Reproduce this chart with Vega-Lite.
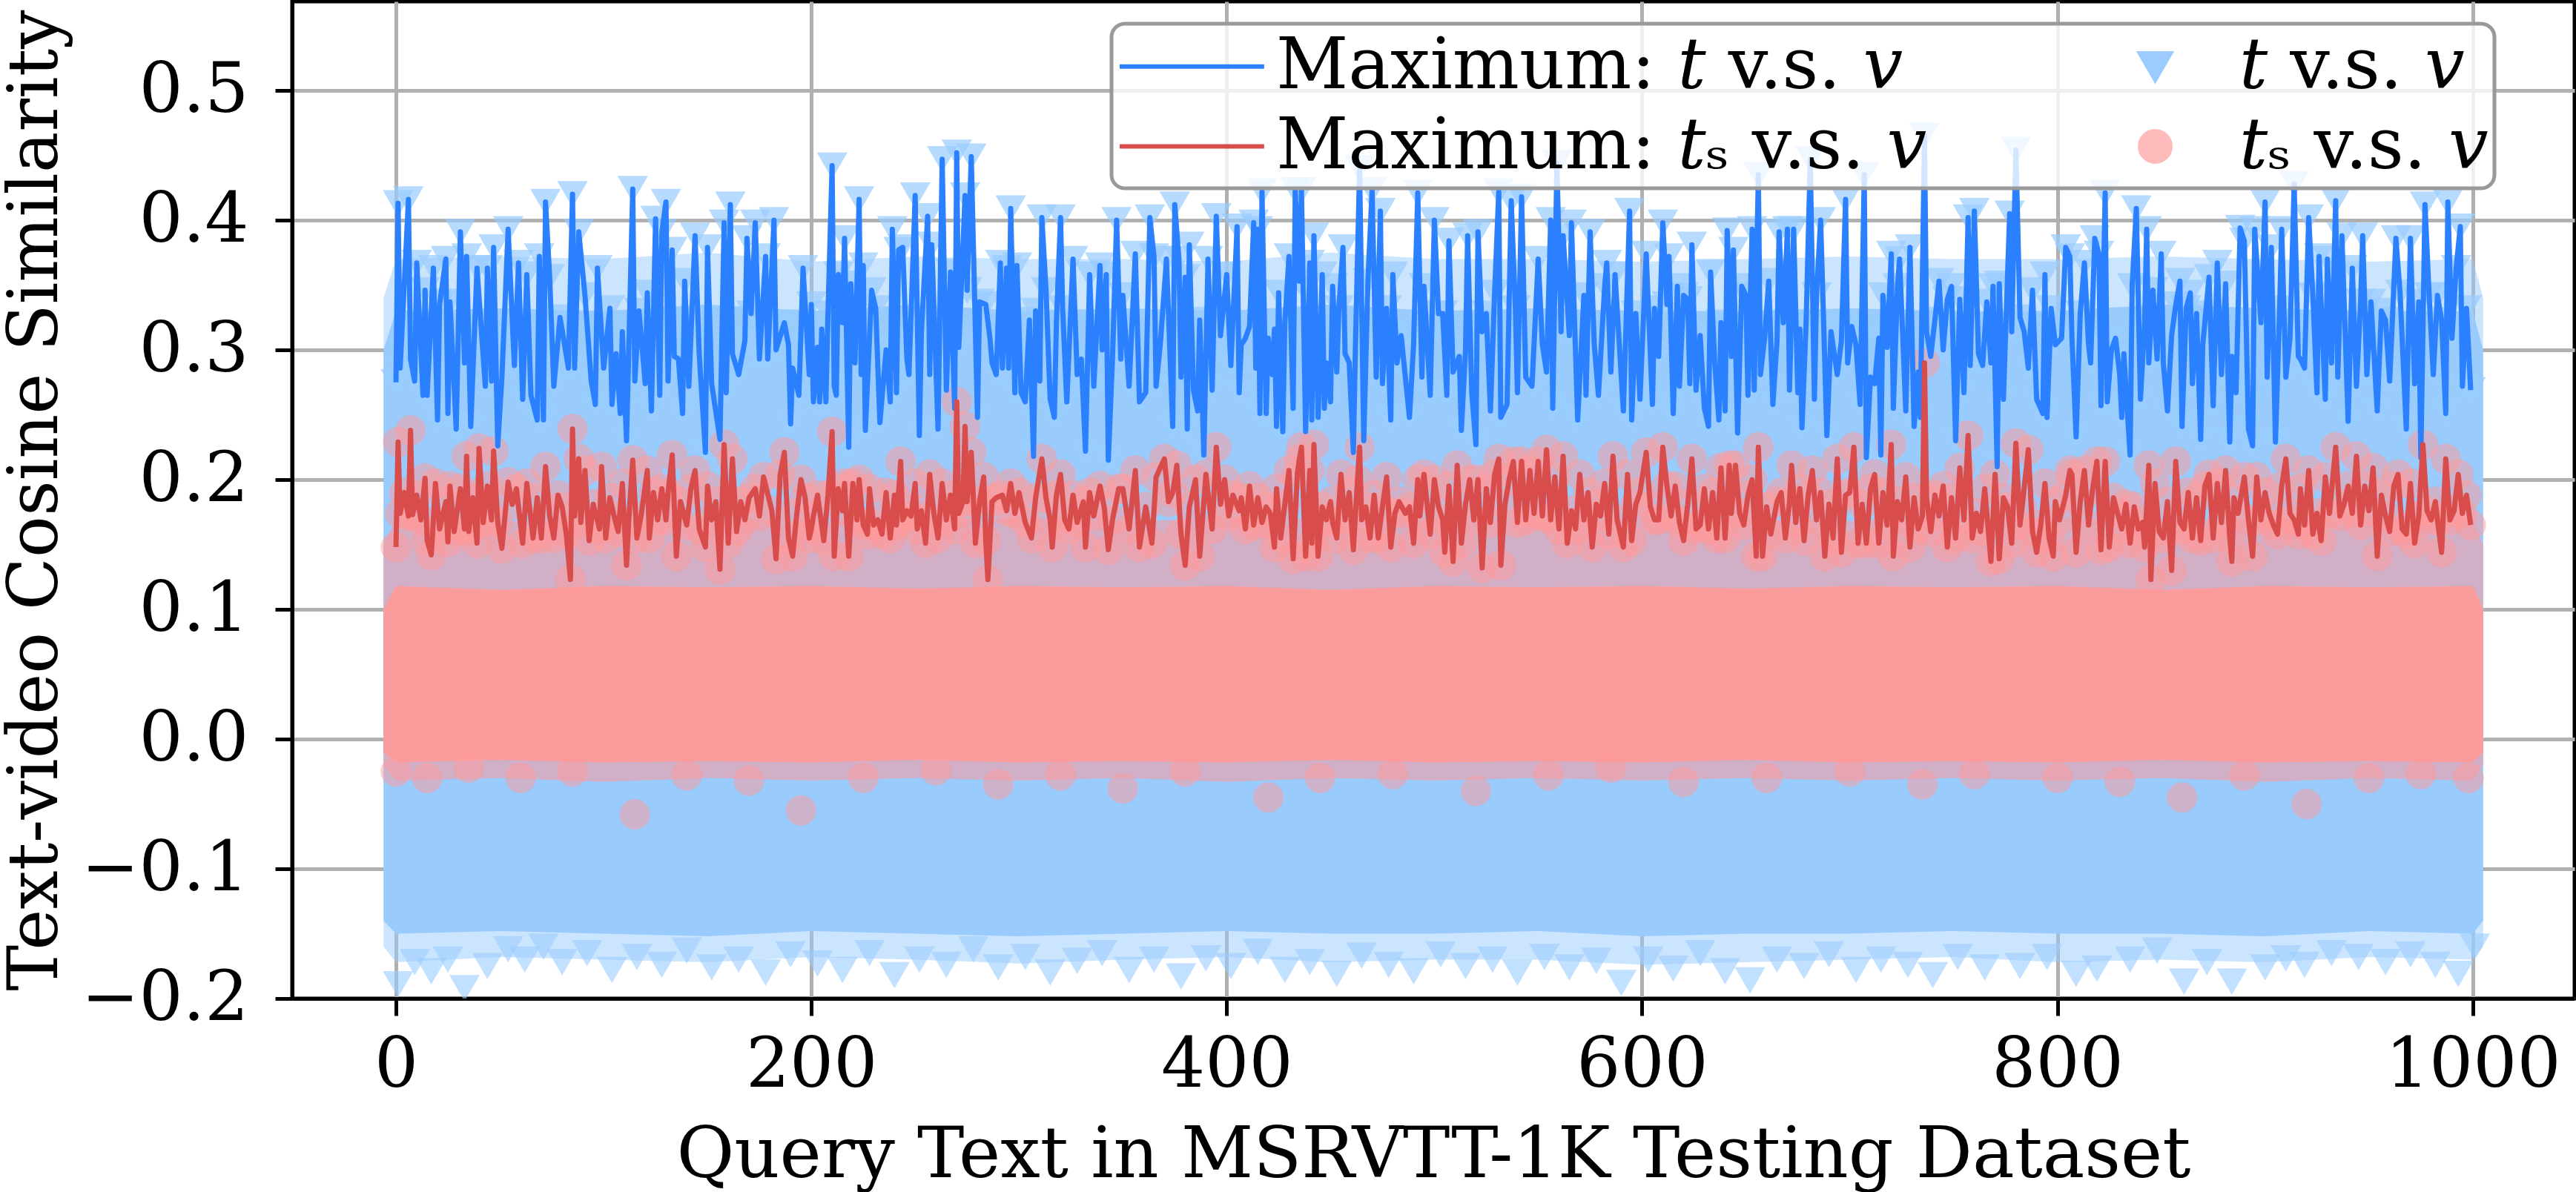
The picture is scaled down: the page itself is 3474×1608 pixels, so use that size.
{
  "$schema": "https://vega.github.io/schema/vega-lite/v6.json",
  "width": 3078,
  "height": 1345,
  "autosize": {"type": "none"},
  "padding": {"left": 394, "top": 2, "right": 2, "bottom": 261},
  "background": "white",
  "datasets": {
    "cloud": [
      {"q":-6,"bLo2":-0.16,"bLo":-0.14,"bHi":0.3,"bHi2":0.34,"pLo2":-0.02,"pLo":-0.01,"pHi":0.1,"pHi2":0.15},
      {"q":0,"bLo2":-0.172,"bLo":-0.15,"bHi":0.33,"bHi2":0.37,"pLo2":-0.032,"pLo":-0.018,"pHi":0.118,"pHi2":0.17},
      {"q":50,"bLo2":-0.168,"bLo":-0.148,"bHi":0.332,"bHi2":0.372,"pLo2":-0.03,"pLo":-0.016,"pHi":0.115,"pHi2":0.168},
      {"q":100,"bLo2":-0.17,"bLo":-0.15,"bHi":0.33,"bHi2":0.37,"pLo2":-0.033,"pLo":-0.018,"pHi":0.118,"pHi2":0.17},
      {"q":150,"bLo2":-0.172,"bLo":-0.152,"bHi":0.335,"bHi2":0.375,"pLo2":-0.03,"pLo":-0.017,"pHi":0.117,"pHi2":0.17},
      {"q":200,"bLo2":-0.168,"bLo":-0.148,"bHi":0.33,"bHi2":0.368,"pLo2":-0.032,"pLo":-0.018,"pHi":0.118,"pHi2":0.168},
      {"q":250,"bLo2":-0.17,"bLo":-0.15,"bHi":0.335,"bHi2":0.372,"pLo2":-0.03,"pLo":-0.016,"pHi":0.116,"pHi2":0.17},
      {"q":300,"bLo2":-0.173,"bLo":-0.152,"bHi":0.33,"bHi2":0.37,"pLo2":-0.032,"pLo":-0.018,"pHi":0.118,"pHi2":0.17},
      {"q":350,"bLo2":-0.17,"bLo":-0.15,"bHi":0.332,"bHi2":0.37,"pLo2":-0.03,"pLo":-0.017,"pHi":0.117,"pHi2":0.168},
      {"q":400,"bLo2":-0.168,"bLo":-0.148,"bHi":0.33,"bHi2":0.368,"pLo2":-0.033,"pLo":-0.018,"pHi":0.118,"pHi2":0.17},
      {"q":450,"bLo2":-0.172,"bLo":-0.15,"bHi":0.335,"bHi2":0.375,"pLo2":-0.03,"pLo":-0.016,"pHi":0.115,"pHi2":0.17},
      {"q":500,"bLo2":-0.17,"bLo":-0.15,"bHi":0.33,"bHi2":0.37,"pLo2":-0.032,"pLo":-0.018,"pHi":0.118,"pHi2":0.17},
      {"q":550,"bLo2":-0.17,"bLo":-0.148,"bHi":0.332,"bHi2":0.37,"pLo2":-0.03,"pLo":-0.017,"pHi":0.117,"pHi2":0.168},
      {"q":600,"bLo2":-0.174,"bLo":-0.152,"bHi":0.33,"bHi2":0.368,"pLo2":-0.032,"pLo":-0.018,"pHi":0.118,"pHi2":0.17},
      {"q":650,"bLo2":-0.172,"bLo":-0.15,"bHi":0.33,"bHi2":0.37,"pLo2":-0.03,"pLo":-0.016,"pHi":0.116,"pHi2":0.17},
      {"q":700,"bLo2":-0.17,"bLo":-0.15,"bHi":0.332,"bHi2":0.372,"pLo2":-0.032,"pLo":-0.018,"pHi":0.118,"pHi2":0.168},
      {"q":750,"bLo2":-0.168,"bLo":-0.148,"bHi":0.33,"bHi2":0.37,"pLo2":-0.03,"pLo":-0.017,"pHi":0.117,"pHi2":0.17},
      {"q":800,"bLo2":-0.172,"bLo":-0.15,"bHi":0.33,"bHi2":0.37,"pLo2":-0.032,"pLo":-0.018,"pHi":0.118,"pHi2":0.17},
      {"q":850,"bLo2":-0.17,"bLo":-0.15,"bHi":0.335,"bHi2":0.372,"pLo2":-0.03,"pLo":-0.016,"pHi":0.115,"pHi2":0.168},
      {"q":900,"bLo2":-0.172,"bLo":-0.152,"bHi":0.332,"bHi2":0.37,"pLo2":-0.033,"pLo":-0.018,"pHi":0.118,"pHi2":0.17},
      {"q":950,"bLo2":-0.168,"bLo":-0.148,"bHi":0.33,"bHi2":0.368,"pLo2":-0.03,"pLo":-0.017,"pHi":0.117,"pHi2":0.17},
      {"q":1000,"bLo2":-0.17,"bLo":-0.15,"bHi":0.33,"bHi2":0.37,"pLo2":-0.032,"pLo":-0.018,"pHi":0.118,"pHi2":0.17},
      {"q":1005,"bLo2":-0.16,"bLo":-0.14,"bHi":0.3,"bHi2":0.34,"pLo2":-0.02,"pLo":-0.01,"pHi":0.1,"pHi2":0.15}
    ],
    "minT": [
      {"q":1,"s":-0.189},{"q":9,"s":-0.172},{"q":17,"s":-0.179},{"q":25,"s":-0.17},{"q":33,"s":-0.192},{"q":44,"s":-0.175},{"q":54,"s":-0.162},{"q":62,"s":-0.17},{"q":71,"s":-0.16},{"q":80,"s":-0.172},{"q":92,"s":-0.165},{"q":104,"s":-0.178},{"q":116,"s":-0.168},{"q":128,"s":-0.174},{"q":140,"s":-0.163},{"q":152,"s":-0.176},{"q":165,"s":-0.17},{"q":178,"s":-0.18},{"q":190,"s":-0.166},{"q":203,"s":-0.173},{"q":215,"s":-0.178},{"q":228,"s":-0.165},{"q":240,"s":-0.182},{"q":252,"s":-0.17},{"q":265,"s":-0.174},{"q":278,"s":-0.162},{"q":290,"s":-0.176},{"q":303,"s":-0.168},{"q":315,"s":-0.18},{"q":328,"s":-0.171},{"q":340,"s":-0.165},{"q":353,"s":-0.178},{"q":365,"s":-0.17},{"q":378,"s":-0.183},{"q":390,"s":-0.169},{"q":402,"s":-0.175},{"q":415,"s":-0.164},{"q":428,"s":-0.178},{"q":440,"s":-0.172},{"q":453,"s":-0.181},{"q":465,"s":-0.167},{"q":478,"s":-0.174},{"q":490,"s":-0.179},{"q":503,"s":-0.166},{"q":515,"s":-0.175},{"q":528,"s":-0.17},{"q":540,"s":-0.18},{"q":553,"s":-0.168},{"q":565,"s":-0.176},{"q":578,"s":-0.171},{"q":590,"s":-0.188},{"q":603,"s":-0.17},{"q":615,"s":-0.177},{"q":628,"s":-0.165},{"q":640,"s":-0.179},{"q":652,"s":-0.186},{"q":665,"s":-0.17},{"q":678,"s":-0.175},{"q":690,"s":-0.166},{"q":703,"s":-0.178},{"q":715,"s":-0.17},{"q":728,"s":-0.174},{"q":740,"s":-0.182},{"q":752,"s":-0.168},{"q":765,"s":-0.176},{"q":782,"s":-0.175},{"q":795,"s":-0.168},{"q":809,"s":-0.181},{"q":819,"s":-0.177},{"q":835,"s":-0.17},{"q":848,"s":-0.163},{"q":861,"s":-0.187},{"q":872,"s":-0.172},{"q":884,"s":-0.187},{"q":900,"s":-0.176},{"q":910,"s":-0.169},{"q":919,"s":-0.174},{"q":932,"s":-0.165},{"q":945,"s":-0.168},{"q":958,"s":-0.172},{"q":970,"s":-0.166},{"q":982,"s":-0.174},{"q":993,"s":-0.181},{"q":1001,"s":-0.16}
    ],
    "minTs": [
      {"q":0,"s":-0.025},{"q":15,"s":-0.03},{"q":35,"s":-0.022},{"q":60,"s":-0.03},{"q":85,"s":-0.025},{"q":115,"s":-0.058},{"q":140,"s":-0.028},{"q":170,"s":-0.032},{"q":195,"s":-0.055},{"q":225,"s":-0.03},{"q":260,"s":-0.024},{"q":290,"s":-0.035},{"q":320,"s":-0.028},{"q":350,"s":-0.038},{"q":380,"s":-0.025},{"q":420,"s":-0.045},{"q":445,"s":-0.03},{"q":480,"s":-0.027},{"q":520,"s":-0.04},{"q":555,"s":-0.028},{"q":585,"s":-0.022},{"q":620,"s":-0.033},{"q":660,"s":-0.03},{"q":700,"s":-0.025},{"q":735,"s":-0.035},{"q":760,"s":-0.027},{"q":800,"s":-0.03},{"q":830,"s":-0.033},{"q":860,"s":-0.045},{"q":890,"s":-0.028},{"q":920,"s":-0.05},{"q":950,"s":-0.03},{"q":975,"s":-0.027},{"q":998,"s":-0.03}
    ],
    "maxT": [
      {"q":0,"s":0.275},{"q":1,"s":0.413},{"q":2,"s":0.286},{"q":6,"s":0.416},{"q":7,"s":0.293},{"q":9,"s":0.276},{"q":10,"s":0.367},{"q":13,"s":0.265},{"q":14,"s":0.346},{"q":15,"s":0.265},{"q":18,"s":0.363},{"q":20,"s":0.246},{"q":21,"s":0.335},{"q":24,"s":0.37},{"q":25,"s":0.251},{"q":26,"s":0.337},{"q":29,"s":0.239},{"q":31,"s":0.391},{"q":33,"s":0.29},{"q":34,"s":0.372},{"q":36,"s":0.241},{"q":39,"s":0.363},{"q":43,"s":0.272},{"q":44,"s":0.363},{"q":46,"s":0.276},{"q":47,"s":0.379},{"q":49,"s":0.226},{"q":51,"s":0.279},{"q":54,"s":0.393},{"q":57,"s":0.288},{"q":59,"s":0.367},{"q":61,"s":0.262},{"q":63,"s":0.358},{"q":65,"s":0.265},{"q":68,"s":0.246},{"q":69,"s":0.372},{"q":71,"s":0.246},{"q":72,"s":0.414},{"q":74,"s":0.356},{"q":76,"s":0.272},{"q":79,"s":0.325},{"q":83,"s":0.286},{"q":85,"s":0.42},{"q":86,"s":0.286},{"q":88,"s":0.391},{"q":91,"s":0.342},{"q":94,"s":0.276},{"q":96,"s":0.258},{"q":97,"s":0.363},{"q":100,"s":0.286},{"q":103,"s":0.332},{"q":104,"s":0.258},{"q":106,"s":0.297},{"q":108,"s":0.251},{"q":109,"s":0.314},{"q":111,"s":0.23},{"q":114,"s":0.424},{"q":115,"s":0.276},{"q":117,"s":0.33},{"q":120,"s":0.274},{"q":121,"s":0.344},{"q":123,"s":0.253},{"q":125,"s":0.401},{"q":127,"s":0.265},{"q":128,"s":0.391},{"q":130,"s":0.414},{"q":131,"s":0.276},{"q":133,"s":0.377},{"q":134,"s":0.295},{"q":136,"s":0.293},{"q":138,"s":0.251},{"q":139,"s":0.353},{"q":141,"s":0.272},{"q":144,"s":0.388},{"q":146,"s":0.297},{"q":149,"s":0.221},{"q":150,"s":0.379},{"q":152,"s":0.274},{"q":156,"s":0.231},{"q":158,"s":0.398},{"q":159,"s":0.267},{"q":161,"s":0.412},{"q":162,"s":0.297},{"q":165,"s":0.281},{"q":168,"s":0.307},{"q":169,"s":0.386},{"q":171,"s":0.328},{"q":173,"s":0.398},{"q":175,"s":0.293},{"q":178,"s":0.372},{"q":179,"s":0.293},{"q":182,"s":0.4},{"q":183,"s":0.3},{"q":187,"s":0.321},{"q":189,"s":0.304},{"q":190,"s":0.243},{"q":191,"s":0.286},{"q":194,"s":0.265},{"q":196,"s":0.363},{"q":199,"s":0.281},
      {"q":200,"s":0.335},{"q":201,"s":0.26},{"q":203,"s":0.302},{"q":204,"s":0.26},{"q":205,"s":0.316},{"q":207,"s":0.26},{"q":208,"s":0.328},{"q":210,"s":0.442},{"q":211,"s":0.272},{"q":212,"s":0.265},{"q":213,"s":0.358},{"q":215,"s":0.321},{"q":216,"s":0.386},{"q":218,"s":0.225},{"q":219,"s":0.351},{"q":221,"s":0.29},{"q":223,"s":0.416},{"q":224,"s":0.281},{"q":225,"s":0.365},{"q":226,"s":0.238},{"q":228,"s":0.309},{"q":229,"s":0.346},{"q":231,"s":0.332},{"q":233,"s":0.244},{"q":236,"s":0.3},{"q":238,"s":0.26},{"q":239,"s":0.393},{"q":241,"s":0.267},{"q":242,"s":0.377},{"q":244,"s":0.379},{"q":246,"s":0.293},{"q":247,"s":0.281},{"q":250,"s":0.419},{"q":252,"s":0.234},{"q":253,"s":0.314},{"q":256,"s":0.403},{"q":257,"s":0.281},{"q":258,"s":0.381},{"q":261,"s":0.239},{"q":263,"s":0.447},{"q":265,"s":0.269},{"q":267,"s":0.36},{"q":269,"s":0.255},{"q":270,"s":0.452},{"q":271,"s":0.302},{"q":274,"s":0.419},{"q":275,"s":0.346},{"q":277,"s":0.449},{"q":280,"s":0.248},{"q":281,"s":0.337},{"q":284,"s":0.335},{"q":286,"s":0.309},{"q":287,"s":0.29},{"q":289,"s":0.281},{"q":291,"s":0.367},{"q":292,"s":0.286},{"q":294,"s":0.363},{"q":295,"s":0.286},{"q":296,"s":0.409},{"q":298,"s":0.267},{"q":299,"s":0.365},{"q":301,"s":0.267},{"q":303,"s":0.26},{"q":305,"s":0.323},{"q":307,"s":0.218},{"q":308,"s":0.33},{"q":310,"s":0.276},{"q":311,"s":0.402},{"q":313,"s":0.346},{"q":315,"s":0.262},{"q":317,"s":0.248},{"q":318,"s":0.321},{"q":320,"s":0.402},{"q":321,"s":0.332},{"q":323,"s":0.26},{"q":326,"s":0.37},{"q":328,"s":0.281},{"q":330,"s":0.293},{"q":332,"s":0.222},{"q":334,"s":0.358},{"q":336,"s":0.272},{"q":339,"s":0.365},{"q":340,"s":0.3},{"q":342,"s":0.358},{"q":343,"s":0.215},{"q":345,"s":0.293},{"q":347,"s":0.4},{"q":349,"s":0.293},{"q":350,"s":0.342},{"q":353,"s":0.272},{"q":356,"s":0.374},{"q":358,"s":0.26},{"q":361,"s":0.267},{"q":363,"s":0.402},{"q":365,"s":0.372},{"q":366,"s":0.272},{"q":368,"s":0.304},{"q":371,"s":0.37},{"q":374,"s":0.241},{"q":375,"s":0.412},{"q":377,"s":0.37},{"q":378,"s":0.279},{"q":380,"s":0.356},{"q":381,"s":0.239},{"q":382,"s":0.381},{"q":384,"s":0.269},{"q":386,"s":0.253},{"q":387,"s":0.323},{"q":389,"s":0.219},{"q":391,"s":0.37},{"q":393,"s":0.269},{"q":395,"s":0.403},{"q":397,"s":0.311},{"q":400,"s":0.358},{"q":402,"s":0.288},{"q":405,"s":0.395},{"q":406,"s":0.267},
      {"q":407,"s":0.304},{"q":409,"s":0.309},{"q":411,"s":0.318},{"q":413,"s":0.398},{"q":414,"s":0.286},{"q":415,"s":0.393},{"q":416,"s":0.251},{"q":417,"s":0.422},{"q":419,"s":0.251},{"q":420,"s":0.309},{"q":422,"s":0.281},{"q":423,"s":0.316},{"q":424,"s":0.241},{"q":425,"s":0.344},{"q":427,"s":0.237},{"q":428,"s":0.321},{"q":430,"s":0.372},{"q":432,"s":0.255},{"q":433,"s":0.423},{"q":435,"s":0.353},{"q":436,"s":0.423},{"q":438,"s":0.237},{"q":440,"s":0.367},{"q":441,"s":0.246},{"q":442,"s":0.388},{"q":444,"s":0.248},{"q":446,"s":0.358},{"q":447,"s":0.255},{"q":448,"s":0.29},{"q":450,"s":0.26},{"q":451,"s":0.349},{"q":453,"s":0.283},{"q":454,"s":0.332},{"q":456,"s":0.379},{"q":457,"s":0.297},{"q":459,"s":0.29},{"q":461,"s":0.221},{"q":462,"s":0.304},{"q":464,"s":0.44},{"q":466,"s":0.23},{"q":468,"s":0.353},{"q":470,"s":0.423},{"q":472,"s":0.279},{"q":474,"s":0.407},{"q":475,"s":0.274},{"q":477,"s":0.332},{"q":479,"s":0.246},{"q":480,"s":0.358},{"q":482,"s":0.29},{"q":484,"s":0.311},{"q":488,"s":0.248},{"q":490,"s":0.304},{"q":492,"s":0.421},{"q":494,"s":0.279},{"q":495,"s":0.349},{"q":498,"s":0.265},{"q":500,"s":0.4},{"q":502,"s":0.328},{"q":504,"s":0.328},{"q":506,"s":0.265},{"q":507,"s":0.384},{"q":509,"s":0.283},{"q":512,"s":0.295},{"q":513,"s":0.238},{"q":515,"s":0.3},{"q":516,"s":0.388},{"q":518,"s":0.267},{"q":520,"s":0.227},{"q":521,"s":0.391},{"q":523,"s":0.314},{"q":525,"s":0.328},{"q":527,"s":0.253},{"q":529,"s":0.344},{"q":531,"s":0.422},{"q":532,"s":0.248},{"q":535,"s":0.258},{"q":537,"s":0.415},{"q":539,"s":0.332},{"q":540,"s":0.267},{"q":542,"s":0.418},{"q":544,"s":0.279},{"q":547,"s":0.272},{"q":550,"s":0.37},{"q":552,"s":0.304},{"q":554,"s":0.283},{"q":556,"s":0.4},{"q":557,"s":0.255},{"q":559,"s":0.444},{"q":561,"s":0.314},{"q":562,"s":0.388},{"q":565,"s":0.311},{"q":566,"s":0.398},{"q":569,"s":0.246},{"q":572,"s":0.342},{"q":573,"s":0.265},{"q":575,"s":0.391},{"q":577,"s":0.304},{"q":579,"s":0.265},{"q":582,"s":0.349},{"q":583,"s":0.367},{"q":585,"s":0.283},{"q":587,"s":0.358},{"q":591,"s":0.253},{"q":594,"s":0.407},{"q":595,"s":0.246},{"q":597,"s":0.328},{"q":599,"s":0.262},{"q":602,"s":0.374},{"q":605,"s":0.258},
      {"q":606,"s":0.332},{"q":608,"s":0.295},{"q":610,"s":0.398},{"q":612,"s":0.335},{"q":613,"s":0.372},{"q":615,"s":0.251},{"q":617,"s":0.349},{"q":618,"s":0.272},{"q":620,"s":0.342},{"q":622,"s":0.339},{"q":623,"s":0.274},{"q":624,"s":0.381},{"q":626,"s":0.269},{"q":628,"s":0.311},{"q":630,"s":0.255},{"q":632,"s":0.241},{"q":633,"s":0.36},{"q":635,"s":0.29},{"q":637,"s":0.246},{"q":638,"s":0.321},{"q":640,"s":0.253},{"q":641,"s":0.392},{"q":643,"s":0.295},{"q":644,"s":0.377},{"q":646,"s":0.236},{"q":648,"s":0.349},{"q":650,"s":0.342},{"q":651,"s":0.265},{"q":653,"s":0.393},{"q":654,"s":0.269},{"q":656,"s":0.435},{"q":657,"s":0.281},{"q":659,"s":0.309},{"q":661,"s":0.353},{"q":663,"s":0.258},{"q":665,"s":0.307},{"q":666,"s":0.391},{"q":668,"s":0.321},{"q":670,"s":0.393},{"q":671,"s":0.269},{"q":673,"s":0.393},{"q":675,"s":0.267},{"q":676,"s":0.316},{"q":677,"s":0.24},{"q":679,"s":0.321},{"q":681,"s":0.447},{"q":683,"s":0.262},{"q":684,"s":0.342},{"q":686,"s":0.4},{"q":688,"s":0.29},{"q":689,"s":0.234},{"q":691,"s":0.314},{"q":694,"s":0.281},{"q":696,"s":0.307},{"q":698,"s":0.416},{"q":699,"s":0.29},{"q":701,"s":0.318},{"q":703,"s":0.304},{"q":705,"s":0.258},{"q":707,"s":0.435},{"q":708,"s":0.217},{"q":710,"s":0.279},{"q":712,"s":0.274},{"q":714,"s":0.309},{"q":715,"s":0.219},{"q":716,"s":0.342},{"q":718,"s":0.302},{"q":720,"s":0.374},{"q":721,"s":0.255},{"q":723,"s":0.349},{"q":724,"s":0.37},{"q":727,"s":0.253},{"q":729,"s":0.379},{"q":731,"s":0.241},{"q":733,"s":0.283},{"q":734,"s":0.248},{"q":736,"s":0.465},{"q":737,"s":0.314},{"q":739,"s":0.295},{"q":741,"s":0.323},{"q":743,"s":0.353},{"q":745,"s":0.3},{"q":747,"s":0.339},{"q":749,"s":0.349},{"q":751,"s":0.23},{"q":753,"s":0.339},{"q":755,"s":0.267},{"q":757,"s":0.402},{"q":758,"s":0.288},{"q":760,"s":0.407},{"q":762,"s":0.297},{"q":764,"s":0.288},{"q":766,"s":0.337},{"q":768,"s":0.29},{"q":769,"s":0.349},{"q":771,"s":0.21},{"q":772,"s":0.351},{"q":774,"s":0.262},{"q":777,"s":0.405},{"q":778,"s":0.314},{"q":780,"s":0.454},{"q":782,"s":0.325},{"q":784,"s":0.314},{"q":786,"s":0.286},{"q":788,"s":0.346},{"q":790,"s":0.262},{"q":793,"s":0.251},{"q":794,"s":0.358},{"q":795,"s":0.248},{"q":797,"s":0.332},{"q":799,"s":0.304},{"q":802,"s":0.309},{"q":804,"s":0.379},{"q":806,"s":0.372},
      {"q":807,"s":0.309},{"q":809,"s":0.233},{"q":811,"s":0.328},{"q":813,"s":0.367},{"q":815,"s":0.304},{"q":816,"s":0.29},{"q":818,"s":0.386},{"q":820,"s":0.374},{"q":821,"s":0.257},{"q":823,"s":0.421},{"q":824,"s":0.26},{"q":826,"s":0.3},{"q":828,"s":0.309},{"q":830,"s":0.281},{"q":831,"s":0.248},{"q":832,"s":0.297},{"q":835,"s":0.219},{"q":836,"s":0.349},{"q":838,"s":0.409},{"q":840,"s":0.262},{"q":842,"s":0.321},{"q":843,"s":0.393},{"q":844,"s":0.29},{"q":846,"s":0.346},{"q":848,"s":0.293},{"q":850,"s":0.374},{"q":851,"s":0.29},{"q":853,"s":0.253},{"q":855,"s":0.311},{"q":857,"s":0.335},{"q":859,"s":0.353},{"q":860,"s":0.241},{"q":862,"s":0.332},{"q":864,"s":0.344},{"q":865,"s":0.274},{"q":867,"s":0.328},{"q":869,"s":0.231},{"q":870,"s":0.304},{"q":873,"s":0.356},{"q":875,"s":0.257},{"q":877,"s":0.367},{"q":879,"s":0.281},{"q":881,"s":0.351},{"q":883,"s":0.229},{"q":884,"s":0.295},{"q":886,"s":0.267},{"q":888,"s":0.394},{"q":890,"s":0.384},{"q":892,"s":0.239},{"q":894,"s":0.226},{"q":895,"s":0.393},{"q":898,"s":0.321},{"q":900,"s":0.414},{"q":901,"s":0.279},{"q":903,"s":0.379},{"q":905,"s":0.229},{"q":907,"s":0.332},{"q":908,"s":0.393},{"q":910,"s":0.279},{"q":912,"s":0.309},{"q":914,"s":0.428},{"q":916,"s":0.295},{"q":917,"s":0.293},{"q":919,"s":0.286},{"q":921,"s":0.402},{"q":923,"s":0.342},{"q":925,"s":0.267},{"q":926,"s":0.372},{"q":929,"s":0.262},{"q":930,"s":0.37},{"q":932,"s":0.29},{"q":934,"s":0.415},{"q":935,"s":0.279},{"q":937,"s":0.388},{"q":940,"s":0.245},{"q":942,"s":0.363},{"q":944,"s":0.272},{"q":946,"s":0.337},{"q":947,"s":0.388},{"q":949,"s":0.281},{"q":951,"s":0.337},{"q":954,"s":0.253},{"q":956,"s":0.33},{"q":958,"s":0.323},{"q":960,"s":0.276},{"q":963,"s":0.386},{"q":965,"s":0.344},{"q":968,"s":0.239},{"q":970,"s":0.386},{"q":972,"s":0.274},{"q":974,"s":0.337},{"q":975,"s":0.217},{"q":977,"s":0.412},{"q":979,"s":0.342},{"q":981,"s":0.281},{"q":983,"s":0.342},{"q":985,"s":0.323},{"q":987,"s":0.251},{"q":988,"s":0.414},{"q":990,"s":0.309},{"q":992,"s":0.363},{"q":994,"s":0.395},{"q":995,"s":0.272},{"q":997,"s":0.332},{"q":999,"s":0.269}
    ],
    "maxTs": [
      {"q":0,"s":0.148},{"q":1,"s":0.229},{"q":2,"s":0.174},{"q":4,"s":0.19},{"q":6,"s":0.172},{"q":7,"s":0.238},{"q":8,"s":0.173},{"q":10,"s":0.188},{"q":12,"s":0.169},{"q":14,"s":0.201},{"q":15,"s":0.153},{"q":17,"s":0.142},{"q":19,"s":0.197},{"q":21,"s":0.162},{"q":24,"s":0.183},{"q":25,"s":0.152},{"q":26,"s":0.195},{"q":28,"s":0.16},{"q":31,"s":0.193},{"q":33,"s":0.162},{"q":34,"s":0.218},{"q":35,"s":0.16},{"q":37,"s":0.186},{"q":39,"s":0.151},{"q":40,"s":0.224},{"q":42,"s":0.167},{"q":44,"s":0.195},{"q":46,"s":0.169},{"q":47,"s":0.222},{"q":49,"s":0.167},{"q":51,"s":0.147},{"q":54,"s":0.198},{"q":56,"s":0.181},{"q":58,"s":0.193},{"q":61,"s":0.151},{"q":63,"s":0.197},{"q":66,"s":0.155},{"q":68,"s":0.186},{"q":70,"s":0.155},{"q":72,"s":0.21},{"q":74,"s":0.172},{"q":76,"s":0.155},{"q":78,"s":0.188},{"q":80,"s":0.179},{"q":82,"s":0.158},{"q":84,"s":0.123},{"q":85,"s":0.239},{"q":86,"s":0.172},{"q":88,"s":0.216},{"q":89,"s":0.167},{"q":91,"s":0.207},{"q":93,"s":0.153},{"q":95,"s":0.181},{"q":98,"s":0.162},{"q":99,"s":0.21},{"q":101,"s":0.155},{"q":103,"s":0.186},{"q":105,"s":0.172},{"q":107,"s":0.16},{"q":109,"s":0.197},{"q":111,"s":0.134},{"q":112,"s":0.167},{"q":114,"s":0.215},{"q":116,"s":0.155},{"q":118,"s":0.172},{"q":121,"s":0.207},{"q":122,"s":0.155},{"q":124,"s":0.19},{"q":126,"s":0.169},{"q":128,"s":0.193},{"q":130,"s":0.169},{"q":131,"s":0.19},{"q":133,"s":0.219},{"q":135,"s":0.141},{"q":137,"s":0.183},{"q":140,"s":0.165},{"q":142,"s":0.193},{"q":144,"s":0.207},{"q":146,"s":0.162},{"q":149,"s":0.148},{"q":150,"s":0.195},{"q":152,"s":0.169},{"q":154,"s":0.183},{"q":156,"s":0.131},{"q":158,"s":0.227},{"q":160,"s":0.151},{"q":162,"s":0.216},{"q":164,"s":0.16},{"q":166,"s":0.183},{"q":168,"s":0.169},{"q":170,"s":0.186},{"q":173,"s":0.193},{"q":175,"s":0.172},{"q":177,"s":0.202},{"q":181,"s":0.176},{"q":183,"s":0.139},{"q":185,"s":0.204},{"q":187,"s":0.221},{"q":189,"s":0.155},{"q":191,"s":0.141},{"q":193,"s":0.174},{"q":195,"s":0.2},{"q":197,"s":0.186},{"q":199,"s":0.155},
      {"q":200,"s":0.162},{"q":201,"s":0.172},{"q":203,"s":0.188},{"q":206,"s":0.153},{"q":208,"s":0.188},{"q":210,"s":0.237},{"q":211,"s":0.141},{"q":213,"s":0.193},{"q":215,"s":0.176},{"q":216,"s":0.197},{"q":218,"s":0.141},{"q":220,"s":0.197},{"q":222,"s":0.169},{"q":223,"s":0.2},{"q":225,"s":0.165},{"q":227,"s":0.158},{"q":228,"s":0.193},{"q":230,"s":0.165},{"q":232,"s":0.169},{"q":234,"s":0.158},{"q":236,"s":0.19},{"q":238,"s":0.155},{"q":240,"s":0.188},{"q":241,"s":0.165},{"q":243,"s":0.214},{"q":244,"s":0.169},{"q":246,"s":0.176},{"q":248,"s":0.172},{"q":250,"s":0.197},{"q":251,"s":0.162},{"q":253,"s":0.176},{"q":255,"s":0.151},{"q":257,"s":0.204},{"q":259,"s":0.174},{"q":261,"s":0.155},{"q":263,"s":0.197},{"q":265,"s":0.169},{"q":267,"s":0.188},{"q":269,"s":0.162},{"q":270,"s":0.26},{"q":271,"s":0.174},{"q":273,"s":0.183},{"q":274,"s":0.241},{"q":275,"s":0.183},{"q":277,"s":0.221},{"q":279,"s":0.151},{"q":281,"s":0.183},{"q":283,"s":0.202},{"q":284,"s":0.153},{"q":285,"s":0.123},{"q":287,"s":0.183},{"q":289,"s":0.186},{"q":292,"s":0.188},{"q":294,"s":0.176},{"q":296,"s":0.197},{"q":298,"s":0.174},{"q":300,"s":0.19},{"q":303,"s":0.167},{"q":306,"s":0.155},{"q":308,"s":0.186},{"q":311,"s":0.216},{"q":313,"s":0.186},{"q":315,"s":0.169},{"q":316,"s":0.148},{"q":318,"s":0.188},{"q":320,"s":0.204},{"q":322,"s":0.169},{"q":324,"s":0.162},{"q":326,"s":0.188},{"q":328,"s":0.167},{"q":331,"s":0.183},{"q":332,"s":0.148},{"q":334,"s":0.19},{"q":336,"s":0.172},{"q":339,"s":0.195},{"q":341,"s":0.179},{"q":343,"s":0.146},{"q":345,"s":0.169},{"q":348,"s":0.193},{"q":350,"s":0.193},{"q":353,"s":0.162},{"q":356,"s":0.207},{"q":358,"s":0.148},{"q":361,"s":0.179},{"q":364,"s":0.151},{"q":366,"s":0.202},{"q":370,"s":0.216},{"q":372,"s":0.183},{"q":374,"s":0.19},{"q":376,"s":0.211},{"q":378,"s":0.158},{"q":380,"s":0.134},{"q":382,"s":0.179},{"q":385,"s":0.2},{"q":387,"s":0.141},{"q":390,"s":0.204},{"q":393,"s":0.162},{"q":395,"s":0.225},{"q":397,"s":0.181},{"q":399,"s":0.2},{"q":401,"s":0.172},{"q":403,"s":0.188},{"q":406,"s":0.176},
      {"q":407,"s":0.186},{"q":409,"s":0.162},{"q":411,"s":0.195},{"q":413,"s":0.165},{"q":415,"s":0.186},{"q":417,"s":0.167},{"q":419,"s":0.179},{"q":421,"s":0.174},{"q":423,"s":0.148},{"q":424,"s":0.193},{"q":426,"s":0.155},{"q":428,"s":0.181},{"q":430,"s":0.207},{"q":432,"s":0.139},{"q":434,"s":0.204},{"q":435,"s":0.216},{"q":436,"s":0.225},{"q":438,"s":0.141},{"q":440,"s":0.207},{"q":441,"s":0.151},{"q":442,"s":0.227},{"q":444,"s":0.141},{"q":446,"s":0.179},{"q":448,"s":0.169},{"q":450,"s":0.183},{"q":451,"s":0.167},{"q":453,"s":0.155},{"q":455,"s":0.204},{"q":457,"s":0.169},{"q":459,"s":0.19},{"q":461,"s":0.146},{"q":463,"s":0.2},{"q":464,"s":0.225},{"q":465,"s":0.169},{"q":467,"s":0.179},{"q":469,"s":0.155},{"q":471,"s":0.188},{"q":473,"s":0.155},{"q":475,"s":0.179},{"q":477,"s":0.202},{"q":479,"s":0.148},{"q":481,"s":0.174},{"q":483,"s":0.183},{"q":486,"s":0.174},{"q":488,"s":0.179},{"q":490,"s":0.151},{"q":492,"s":0.2},{"q":493,"s":0.172},{"q":495,"s":0.204},{"q":498,"s":0.158},{"q":500,"s":0.2},{"q":502,"s":0.179},{"q":504,"s":0.169},{"q":505,"s":0.144},{"q":507,"s":0.195},{"q":509,"s":0.137},{"q":511,"s":0.211},{"q":513,"s":0.151},{"q":515,"s":0.181},{"q":517,"s":0.2},{"q":519,"s":0.169},{"q":521,"s":0.2},{"q":523,"s":0.132},{"q":525,"s":0.193},{"q":527,"s":0.167},{"q":529,"s":0.204},{"q":531,"s":0.216},{"q":532,"s":0.134},{"q":534,"s":0.181},{"q":536,"s":0.2},{"q":538,"s":0.214},{"q":540,"s":0.167},{"q":542,"s":0.214},{"q":544,"s":0.169},{"q":546,"s":0.207},{"q":548,"s":0.174},{"q":550,"s":0.214},{"q":552,"s":0.172},{"q":554,"s":0.223},{"q":556,"s":0.169},{"q":558,"s":0.202},{"q":560,"s":0.162},{"q":562,"s":0.218},{"q":564,"s":0.151},{"q":566,"s":0.176},{"q":568,"s":0.162},{"q":570,"s":0.204},{"q":572,"s":0.169},{"q":574,"s":0.19},{"q":576,"s":0.148},{"q":578,"s":0.181},{"q":580,"s":0.172},{"q":582,"s":0.197},{"q":584,"s":0.158},{"q":586,"s":0.218},{"q":588,"s":0.169},{"q":591,"s":0.148},{"q":593,"s":0.204},{"q":595,"s":0.153},{"q":597,"s":0.181},{"q":599,"s":0.19},{"q":602,"s":0.221},{"q":604,"s":0.179},{"q":606,"s":0.169},
      {"q":608,"s":0.169},{"q":610,"s":0.225},{"q":612,"s":0.195},{"q":614,"s":0.172},{"q":616,"s":0.195},{"q":618,"s":0.167},{"q":620,"s":0.153},{"q":622,"s":0.181},{"q":624,"s":0.216},{"q":626,"s":0.162},{"q":628,"s":0.165},{"q":630,"s":0.193},{"q":632,"s":0.162},{"q":634,"s":0.19},{"q":636,"s":0.155},{"q":638,"s":0.209},{"q":640,"s":0.155},{"q":642,"s":0.211},{"q":643,"s":0.174},{"q":645,"s":0.211},{"q":647,"s":0.174},{"q":649,"s":0.165},{"q":651,"s":0.188},{"q":653,"s":0.2},{"q":655,"s":0.141},{"q":656,"s":0.225},{"q":658,"s":0.141},{"q":660,"s":0.179},{"q":662,"s":0.158},{"q":665,"s":0.183},{"q":667,"s":0.19},{"q":669,"s":0.155},{"q":671,"s":0.183},{"q":672,"s":0.211},{"q":674,"s":0.167},{"q":676,"s":0.193},{"q":678,"s":0.153},{"q":680,"s":0.188},{"q":682,"s":0.207},{"q":684,"s":0.169},{"q":686,"s":0.19},{"q":688,"s":0.141},{"q":690,"s":0.181},{"q":692,"s":0.155},{"q":694,"s":0.216},{"q":696,"s":0.144},{"q":698,"s":0.188},{"q":700,"s":0.19},{"q":702,"s":0.225},{"q":704,"s":0.151},{"q":706,"s":0.181},{"q":708,"s":0.151},{"q":710,"s":0.193},{"q":712,"s":0.204},{"q":714,"s":0.151},{"q":716,"s":0.19},{"q":718,"s":0.165},{"q":720,"s":0.227},{"q":721,"s":0.141},{"q":723,"s":0.183},{"q":725,"s":0.169},{"q":727,"s":0.202},{"q":729,"s":0.148},{"q":731,"s":0.186},{"q":733,"s":0.162},{"q":735,"s":0.172},{"q":736,"s":0.29},{"q":737,"s":0.186},{"q":739,"s":0.16},{"q":741,"s":0.188},{"q":743,"s":0.172},{"q":745,"s":0.195},{"q":747,"s":0.148},{"q":749,"s":0.186},{"q":751,"s":0.155},{"q":753,"s":0.209},{"q":755,"s":0.169},{"q":757,"s":0.234},{"q":759,"s":0.155},{"q":761,"s":0.174},{"q":763,"s":0.16},{"q":765,"s":0.193},{"q":768,"s":0.137},{"q":770,"s":0.204},{"q":772,"s":0.139},{"q":774,"s":0.186},{"q":776,"s":0.179},{"q":778,"s":0.151},{"q":780,"s":0.228},{"q":782,"s":0.165},{"q":783,"s":0.179},{"q":786,"s":0.223},{"q":788,"s":0.16},{"q":790,"s":0.144},{"q":792,"s":0.165},{"q":794,"s":0.197},{"q":796,"s":0.155},{"q":798,"s":0.141},{"q":799,"s":0.183},{"q":801,"s":0.169},{"q":804,"s":0.188},{"q":806,"s":0.207},
      {"q":807,"s":0.204},{"q":809,"s":0.144},{"q":811,"s":0.183},{"q":813,"s":0.207},{"q":815,"s":0.165},{"q":817,"s":0.193},{"q":819,"s":0.214},{"q":821,"s":0.146},{"q":823,"s":0.214},{"q":825,"s":0.148},{"q":827,"s":0.186},{"q":829,"s":0.174},{"q":831,"s":0.162},{"q":833,"s":0.181},{"q":835,"s":0.151},{"q":837,"s":0.179},{"q":839,"s":0.162},{"q":841,"s":0.167},{"q":842,"s":0.148},{"q":844,"s":0.211},{"q":845,"s":0.123},{"q":847,"s":0.197},{"q":849,"s":0.16},{"q":851,"s":0.155},{"q":853,"s":0.183},{"q":855,"s":0.13},{"q":857,"s":0.214},{"q":859,"s":0.167},{"q":861,"s":0.162},{"q":863,"s":0.19},{"q":865,"s":0.155},{"q":867,"s":0.186},{"q":869,"s":0.153},{"q":871,"s":0.195},{"q":873,"s":0.204},{"q":875,"s":0.155},{"q":877,"s":0.197},{"q":879,"s":0.167},{"q":881,"s":0.207},{"q":883,"s":0.155},{"q":884,"s":0.137},{"q":885,"s":0.186},{"q":887,"s":0.174},{"q":890,"s":0.202},{"q":892,"s":0.169},{"q":894,"s":0.141},{"q":896,"s":0.202},{"q":898,"s":0.169},{"q":900,"s":0.19},{"q":902,"s":0.174},{"q":904,"s":0.165},{"q":906,"s":0.158},{"q":908,"s":0.195},{"q":910,"s":0.216},{"q":912,"s":0.174},{"q":914,"s":0.169},{"q":916,"s":0.158},{"q":917,"s":0.193},{"q":919,"s":0.165},{"q":921,"s":0.207},{"q":923,"s":0.158},{"q":925,"s":0.174},{"q":927,"s":0.153},{"q":929,"s":0.202},{"q":931,"s":0.174},{"q":934,"s":0.225},{"q":936,"s":0.172},{"q":938,"s":0.181},{"q":940,"s":0.195},{"q":942,"s":0.174},{"q":944,"s":0.218},{"q":946,"s":0.165},{"q":948,"s":0.195},{"q":950,"s":0.176},{"q":952,"s":0.209},{"q":954,"s":0.141},{"q":956,"s":0.188},{"q":958,"s":0.172},{"q":960,"s":0.16},{"q":962,"s":0.195},{"q":964,"s":0.204},{"q":966,"s":0.162},{"q":968,"s":0.158},{"q":970,"s":0.197},{"q":972,"s":0.151},{"q":974,"s":0.172},{"q":976,"s":0.227},{"q":978,"s":0.176},{"q":980,"s":0.169},{"q":982,"s":0.183},{"q":983,"s":0.169},{"q":985,"s":0.144},{"q":987,"s":0.216},{"q":989,"s":0.169},{"q":991,"s":0.176},{"q":993,"s":0.204},{"q":995,"s":0.174},{"q":997,"s":0.188},{"q":999,"s":0.165}
    ]
  },
  "encoding": {
    "x": {
      "field": "q",
      "type": "quantitative",
      "scale": {"domain": [-50, 1049], "nice": false, "zero": false},
      "axis": {
        "values": [0, 200, 400, 600, 800, 1000],
        "format": "d",
        "title": "Query Text in MSRVTT-1K Testing Dataset",
        "titleY": 240,
        "titleBaseline": "alphabetic",
        "labelPadding": 22
      }
    }
  },
  "layer": [
    {
      "data": {"name": "cloud"},
      "mark": {"type": "area", "color": "#99CBFD", "opacity": 0.5, "clip": true},
      "encoding": {
        "y": {
          "field": "bHi2",
          "type": "quantitative",
          "title": "Text-video Cosine Similarity",
          "scale": {"domain": [-0.2, 0.5686], "nice": false, "zero": false},
          "axis": {
            "values": [-0.2, -0.1, 0, 0.1, 0.2, 0.3, 0.4, 0.5],
            "format": ".1f",
            "labelPadding": 36,
            "titleX": -318,
            "titleFontSize": 93,
            "titleBaseline": "alphabetic"
          }
        },
        "y2": {"field": "bLo2"}
      }
    },
    {
      "data": {"name": "cloud"},
      "mark": {"type": "area", "color": "#99CBFD", "opacity": 1, "clip": true},
      "encoding": {
        "y": {"field": "bHi", "type": "quantitative", "title": "Text-video Cosine Similarity"},
        "y2": {"field": "bLo"}
      }
    },
    {
      "data": {"name": "minT"},
      "mark": {"type": "point", "shape": "triangle-down", "filled": true, "size": 1700, "color": "#99CCFF", "opacity": 0.6, "strokeWidth": 0, "clip": true},
      "encoding": {
        "y": {"field": "s", "type": "quantitative", "title": "Text-video Cosine Similarity"}
      }
    },
    {
      "data": {"name": "maxT"},
      "mark": {"type": "point", "shape": "triangle-down", "filled": true, "size": 1700, "color": "#99CCFF", "opacity": 0.7, "strokeWidth": 0, "clip": true},
      "encoding": {
        "y": {"field": "s", "type": "quantitative", "title": "Text-video Cosine Similarity"}
      }
    },
    {
      "data": {"name": "cloud"},
      "mark": {"type": "area", "color": "#FF9999", "opacity": 0.55, "clip": true},
      "encoding": {
        "y": {"field": "pHi2", "type": "quantitative", "title": "Text-video Cosine Similarity"},
        "y2": {"field": "pLo2"}
      }
    },
    {
      "data": {"name": "cloud"},
      "mark": {"type": "area", "color": "#FA9C9C", "opacity": 1, "clip": true},
      "encoding": {
        "y": {"field": "pHi", "type": "quantitative", "title": "Text-video Cosine Similarity"},
        "y2": {"field": "pLo"}
      }
    },
    {
      "data": {"name": "minTs"},
      "mark": {"type": "point", "shape": "circle", "filled": true, "size": 1700, "color": "#FF9999", "opacity": 0.5, "strokeWidth": 0, "clip": true},
      "encoding": {
        "y": {"field": "s", "type": "quantitative", "title": "Text-video Cosine Similarity"}
      }
    },
    {
      "data": {"name": "maxTs"},
      "mark": {"type": "point", "shape": "circle", "filled": true, "size": 1700, "color": "#FF9999", "opacity": 0.5, "strokeWidth": 0, "clip": true},
      "encoding": {
        "y": {"field": "s", "type": "quantitative", "title": "Text-video Cosine Similarity"}
      }
    },
    {
      "data": {"name": "maxT"},
      "mark": {"type": "line", "strokeWidth": 7, "strokeJoin": "round", "clip": true},
      "encoding": {
        "y": {"field": "s", "type": "quantitative", "title": "Text-video Cosine Similarity"},
        "color": {
          "datum": "Maximum: 𝑡 v.s. 𝑣",
          "type": "nominal",
          "scale": {
            "domain": ["Maximum: 𝑡 v.s. 𝑣", "Maximum: 𝑡ₛ v.s. 𝑣", "𝑡 v.s. 𝑣", "𝑡ₛ v.s. 𝑣"],
            "range": ["#2A80FF", "#D84C4C", "#9BCBFF", "#FFBBBB"]
          },
          "legend": {
            "title": null,
            "orient": "none",
            "direction": "vertical",
            "legendX": 1105,
            "legendY": 30,
            "columns": 2,
            "columnPadding": 207,
            "rowPadding": 10,
            "padding": 8,
            "labelFont": "DejaVu Serif",
            "labelFontSize": 95,
            "labelColor": "black",
            "labelLimit": 3000,
            "labelOffset": 115,
            "symbolType": "stroke",
            "symbolSize": 8649,
            "symbolStrokeWidth": 6,
            "fillColor": "rgba(255,255,255,0.8)",
            "strokeColor": "#999999",
            "cornerRadius": 18,
            "zindex": 2,
            "encode": {
              "legend": {"update": {"strokeWidth": {"value": 5}}},
              "symbols": {
                "update": {
                  "shape": {"signal": "indexof(datum.value, 'Maximum') == 0 ? 'M-1,0L3.19,0' : (indexof(datum.value, 'ₛ') >= 0 ? 'M1.538,0A0.441,0.441,0,1,1,0.656,0A0.441,0.441,0,1,1,1.538,0Z' : 'M0.656,-0.382L1.538,-0.382L1.097,0.382Z')"},
                  "fill": {"signal": "indexof(datum.value, 'Maximum') == 0 ? 'transparent' : scale('color', datum.value)"},
                  "stroke": {"signal": "indexof(datum.value, 'Maximum') == 0 ? scale('color', datum.value) : 'transparent'"},
                  "opacity": {"value": 1}
                }
              }
            }
          }
        }
      }
    },
    {
      "data": {"name": "maxTs"},
      "mark": {"type": "line", "strokeWidth": 7, "strokeJoin": "round", "clip": true},
      "encoding": {
        "y": {"field": "s", "type": "quantitative", "title": "Text-video Cosine Similarity"},
        "color": {"datum": "Maximum: 𝑡ₛ v.s. 𝑣", "type": "nominal"}
      }
    }
  ],
  "config": {
    "font": "DejaVu Serif",
    "view": {"stroke": "black", "strokeWidth": 5},
    "axis": {
      "labelFont": "DejaVu Serif",
      "labelFontSize": 93,
      "labelColor": "black",
      "labelFlush": false,
      "labelOverlap": false,
      "labelLimit": 1000,
      "tickSize": 23,
      "tickWidth": 5,
      "tickColor": "black",
      "domainColor": "black",
      "domainWidth": 5,
      "grid": true,
      "gridColor": "#B0B0B0",
      "gridWidth": 5,
      "gridOpacity": 1,
      "titleFont": "DejaVu Serif",
      "titleFontSize": 95,
      "titleFontWeight": "normal",
      "titleColor": "black",
      "zindex": 1
    }
  }
}
